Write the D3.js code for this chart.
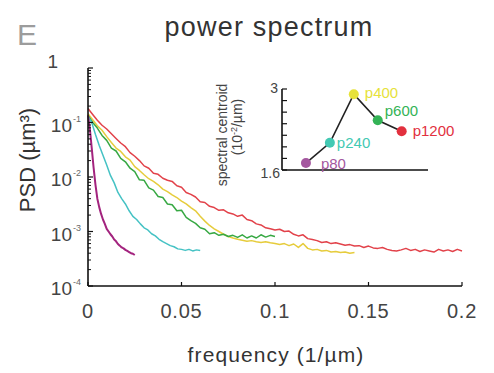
<!DOCTYPE html>
<html><head><meta charset="utf-8">
<script src="https://cdn.jsdelivr.net/npm/d3@7"></script>
<style>body{margin:0;background:#fff} text{font-family:"Liberation Sans",Arial,sans-serif}</style>
</head><body><svg id="c" width="494" height="373"></svg>
<script>
// ---- data ----
const xTicks = [0, 0.05, 0.1, 0.15, 0.2];
const xTickLabels = ["0", "0.05", "0.1", "0.15", "0.2"];
const yTicks = [1, 1e-1, 1e-2, 1e-3, 1e-4];
const yTickExp = [0, -1, -2, -3, -4];
const seriesNames = ["p80", "p240", "p400", "p600", "p1200"];
const centroid = [1.72, 2.07, 2.91, 2.46, 2.27];
const insetYTicks = [1.6, 1.8, 2.0, 2.2, 2.4, 2.6, 2.8, 3.0];
const insetYLabels = ["1.6", "3"];

const psdP80 = [[0,1.35e-1],[0.001,7.6e-2],[0.002,3.4e-2],[0.003,1.48e-2],[0.004,7.2e-3],[0.005,4.0e-3],[0.006,2.8e-3],[0.007,2.1e-3],[0.008,1.66e-3],[0.009,1.38e-3],[0.010,1.12e-3],[0.011,1.0e-3],[0.012,8.9e-4],[0.013,8.1e-4],[0.014,7.1e-4],[0.015,6.6e-4],[0.016,5.9e-4],[0.017,5.5e-4],[0.018,5.1e-4],[0.019,4.9e-4],[0.020,4.6e-4],[0.021,4.4e-4],[0.022,4.2e-4],[0.023,4.0e-4],[0.024,3.9e-4],[0.025,3.7e-4]];

const psdP240 = [[0,1.3e-1],[0.002,1.0e-1],[0.004,6.0e-2],[0.006,3.8e-2],[0.008,2.5e-2],[0.010,1.66e-2],[0.012,1.07e-2],[0.014,7.8e-3],[0.016,5.2e-3],[0.018,4.0e-3],[0.020,3.2e-3],[0.022,2.4e-3],[0.024,1.9e-3],[0.026,1.66e-3],[0.028,1.38e-3],[0.030,1.17e-3],[0.032,1.07e-3],[0.034,9.1e-4],[0.036,8.3e-4],[0.038,7.2e-4],[0.040,6.5e-4],[0.042,6.0e-4],[0.044,5.5e-4],[0.046,5.25e-4],[0.048,4.8e-4],[0.050,4.7e-4],[0.052,4.5e-4],[0.054,4.7e-4],[0.056,4.4e-4],[0.058,4.6e-4],[0.060,4.5e-4]];

const psdP400 = [[0,1.45e-1],[0.0025,1.12e-1],[0.005,8.7e-2],[0.0075,7.2e-2],[0.01,5.5e-2],[0.0125,4.3e-2],[0.015,3.4e-2],[0.0175,2.95e-2],[0.02,2.35e-2],[0.0225,2.04e-2],[0.025,1.55e-2],[0.0275,1.32e-2],[0.03,1.1e-2],[0.0325,9.3e-3],[0.035,8.3e-3],[0.0375,7.2e-3],[0.04,6.0e-3],[0.0425,5.4e-3],[0.045,4.7e-3],[0.0475,4.2e-3],[0.05,3.6e-3],[0.0525,3.2e-3],[0.055,2.75e-3],[0.0575,2.4e-3],[0.06,1.9e-3],[0.0625,1.55e-3],[0.065,1.29e-3],[0.0675,1.12e-3],[0.07,1.0e-3],[0.0725,8.9e-4],[0.075,8.1e-4],[0.0775,7.6e-4],[0.08,7.2e-4],[0.0825,6.9e-4],[0.085,6.6e-4],[0.0875,6.8e-4],[0.09,6.5e-4],[0.0925,6.3e-4],[0.095,6.5e-4],[0.0975,6.2e-4],[0.1,6.0e-4],[0.1025,5.75e-4],[0.105,6.0e-4],[0.1075,5.5e-4],[0.11,5.9e-4],[0.1125,5.1e-4],[0.115,6.0e-4],[0.1175,4.9e-4],[0.12,4.6e-4],[0.1225,4.7e-4],[0.125,4.4e-4],[0.1275,4.5e-4],[0.13,4.2e-4],[0.1325,4.3e-4],[0.135,4.1e-4],[0.1375,4.2e-4],[0.14,4.0e-4],[0.1425,4.1e-4]];

const psdP600 = [[0,1.35e-1],[0.0025,1.0e-1],[0.005,7.9e-2],[0.0075,5.8e-2],[0.01,4.7e-2],[0.0125,3.4e-2],[0.015,3.0e-2],[0.0175,2.2e-2],[0.02,1.9e-2],[0.0225,1.45e-2],[0.025,1.26e-2],[0.0275,8.9e-3],[0.03,8.7e-3],[0.0325,6.3e-3],[0.035,5.75e-3],[0.0375,4.4e-3],[0.04,4.2e-3],[0.0425,3.2e-3],[0.045,3.1e-3],[0.0475,2.4e-3],[0.05,2.45e-3],[0.0525,1.82e-3],[0.055,1.58e-3],[0.0575,1.41e-3],[0.06,1.17e-3],[0.0625,1.1e-3],[0.065,9.1e-4],[0.0675,9.5e-4],[0.07,8.5e-4],[0.0725,8.9e-4],[0.075,8.1e-4],[0.0775,8.5e-4],[0.08,7.8e-4],[0.0825,8.7e-4],[0.085,7.6e-4],[0.0875,8.3e-4],[0.09,7.6e-4],[0.0925,8.7e-4],[0.095,7.9e-4],[0.0975,8.5e-4],[0.1,8.1e-4]];

const psdP1200 = [[0,1.8e-1],[0.0025,1.4e-1],[0.005,1.1e-1],[0.0075,8.9e-2],[0.01,7.6e-2],[0.0125,6.2e-2],[0.015,5.1e-2],[0.0175,4.2e-2],[0.02,3.6e-2],[0.0225,2.8e-2],[0.025,2.4e-2],[0.0275,2.0e-2],[0.03,1.6e-2],[0.0325,1.45e-2],[0.035,1.17e-2],[0.0375,1.12e-2],[0.04,9.5e-3],[0.0425,8.7e-3],[0.045,8.3e-3],[0.0475,6.9e-3],[0.05,6.5e-3],[0.0525,5.2e-3],[0.055,4.8e-3],[0.0575,4.3e-3],[0.06,3.5e-3],[0.0625,3.4e-3],[0.065,2.9e-3],[0.0675,2.75e-3],[0.07,2.45e-3],[0.0725,2.5e-3],[0.075,2.2e-3],[0.0775,2.1e-3],[0.08,1.9e-3],[0.0825,2.0e-3],[0.085,1.66e-3],[0.0875,1.58e-3],[0.09,1.38e-3],[0.0925,1.32e-3],[0.095,1.17e-3],[0.0975,1.12e-3],[0.1,1.07e-3],[0.1025,1.1e-3],[0.105,1.0e-3],[0.1075,1.02e-3],[0.11,8.9e-4],[0.1125,8.3e-4],[0.115,8.7e-4],[0.1175,7.4e-4],[0.12,7.1e-4],[0.1225,6.8e-4],[0.125,6.3e-4],[0.1275,6.5e-4],[0.13,6.0e-4],[0.1325,6.2e-4],[0.135,5.9e-4],[0.1375,5.6e-4],[0.14,5.75e-4],[0.1425,5.4e-4],[0.145,5.5e-4],[0.1475,5.1e-4],[0.15,5.4e-4],[0.1525,5.0e-4],[0.155,4.9e-4],[0.1575,5.1e-4],[0.16,4.7e-4],[0.1625,4.5e-4],[0.165,4.4e-4],[0.1675,4.6e-4],[0.17,4.9e-4],[0.1725,4.5e-4],[0.175,4.7e-4],[0.1775,4.3e-4],[0.18,4.6e-4],[0.1825,4.4e-4],[0.185,4.2e-4],[0.1875,4.7e-4],[0.19,4.4e-4],[0.1925,4.6e-4],[0.195,4.3e-4],[0.1975,4.7e-4],[0.2,4.4e-4]];

const lineColors = ["#a3237e", "#45c2c4", "#e6cc3c", "#37a843", "#e2424a"];
const markerColors = ["#a4579f", "#43c9b3", "#e6e23a", "#34b356", "#e2303e"];

// ---- chart ----
const svg = d3.select("#c");
const x = d3.scaleLinear().domain([0, 0.2]).range([88, 462]);
const y = d3.scaleLog().domain([1e-4, 1]).range([286, 68]);

svg.append("text").attr("x", 17).attr("y", 45).attr("font-size", 30)
  .attr("fill", "#9c9c9c").text("E");
svg.append("text").attr("x", 269).attr("y", 36).attr("font-size", 27)
  .attr("text-anchor", "middle").attr("fill", "#333").attr("letter-spacing", 1.2)
  .text("power spectrum");

// curves
const line = d3.line().x(d => x(d[0])).y(d => y(d[1]));
const series = [psdP1200, psdP400, psdP600, psdP240, psdP80];
const seriesColor = [lineColors[4], lineColors[2], lineColors[3], lineColors[1], lineColors[0]];
series.forEach((s, i) => {
  svg.append("path").attr("d", line(s)).attr("fill", "none")
    .attr("stroke", seriesColor[i]).attr("stroke-width", i === 4 ? 2 : 1.5)
    .attr("stroke-linejoin", "round");
});

// axes
const ax = svg.append("g").attr("stroke", "#111").attr("stroke-width", 1.6);
ax.append("line").attr("x1", x(0)).attr("x2", x(0)).attr("y1", y(1)).attr("y2", y(1e-4));
ax.append("line").attr("x1", x(0)).attr("x2", x(0.2)).attr("y1", y(1e-4)).attr("y2", y(1e-4));
yTicks.forEach(t => {
  ax.append("line").attr("x1", x(0)).attr("x2", x(0) + 5).attr("y1", y(t)).attr("y2", y(t)).attr("stroke-width", 1.2);
});
for (let d = -4; d < 0; d++) {
  for (let k = 2; k <= 9; k++) {
    const v = k * Math.pow(10, d);
    ax.append("line").attr("x1", x(0)).attr("x2", x(0) + 3).attr("y1", y(v)).attr("y2", y(v)).attr("stroke-width", 1);
  }
}
xTicks.forEach(t => {
  ax.append("line").attr("x1", x(t)).attr("x2", x(t)).attr("y1", y(1e-4)).attr("y2", y(1e-4) - 4).attr("stroke-width", 1.2);
});

// y tick labels
yTicks.forEach((t, i) => {
  if (yTickExp[i] === 0) {
    svg.append("text").attr("x", 58).attr("y", y(t)).attr("font-size", 19)
      .attr("text-anchor", "end").attr("fill", "#444").text("1");
  } else {
    svg.append("text").attr("x", 72).attr("y", y(t) + 9).attr("font-size", 19)
      .attr("text-anchor", "end").attr("fill", "#444").text("10");
    svg.append("text").attr("x", 73).attr("y", y(t) - 1).attr("font-size", 9)
      .attr("fill", "#666").text(String(yTickExp[i]));
  }
});
// x tick labels
xTicks.forEach((t, i) => {
  svg.append("text").attr("x", x(t)).attr("y", 318).attr("font-size", 20)
    .attr("text-anchor", "middle").attr("fill", "#444").attr("letter-spacing", 0.8).text(xTickLabels[i]);
});
svg.append("text").attr("x", 276).attr("y", 362).attr("font-size", 21)
  .attr("text-anchor", "middle").attr("fill", "#333").attr("letter-spacing", 1.1)
  .text("frequency (1/µm)");
svg.append("text").attr("transform", "translate(35,160) rotate(-90)").attr("font-size", 22)
  .attr("text-anchor", "middle").attr("fill", "#333").text("PSD (µm³)");

// ---- inset ----
const xi = d3.scaleLinear().domain([-1, 5.1]).range([282, 428]);
const yi = d3.scaleLinear().domain([1.6, 3]).range([170, 89]);
const ig = svg.append("g");
ig.append("line").attr("x1", xi(-1)).attr("x2", xi(-1)).attr("y1", yi(3)).attr("y2", yi(1.6)).attr("stroke", "#111").attr("stroke-width", 1.6);
ig.append("line").attr("x1", xi(-1)).attr("x2", xi(5.1)).attr("y1", yi(1.6)).attr("y2", yi(1.6)).attr("stroke", "#111").attr("stroke-width", 1.6);
insetYTicks.forEach(t => {
  ig.append("line").attr("x1", xi(-1)).attr("x2", xi(-1) + 5).attr("y1", yi(t)).attr("y2", yi(t)).attr("stroke", "#111").attr("stroke-width", 1.2);
});
ig.append("text").attr("x", 278).attr("y", yi(3) + 4).attr("font-size", 14).attr("text-anchor", "end").attr("fill", "#444").text(insetYLabels[1]);
ig.append("text").attr("x", 280).attr("y", yi(1.6) + 8).attr("font-size", 14).attr("text-anchor", "end").attr("fill", "#444").text(insetYLabels[0]);

const cl = d3.line().x((d, i) => xi(i)).y(d => yi(d));
ig.append("path").attr("d", cl(centroid)).attr("fill", "none").attr("stroke", "#222").attr("stroke-width", 1.6);
const labelOff = [[15, 6], [7, 5], [11, 4], [7, -4], [11, 5]];
centroid.forEach((v, i) => {
  ig.append("circle").attr("cx", xi(i)).attr("cy", yi(v)).attr("r", 5).attr("fill", markerColors[i]);
  ig.append("text").attr("x", xi(i) + labelOff[i][0]).attr("y", yi(v) + labelOff[i][1])
    .attr("font-size", 15).attr("fill", markerColors[i]).text(seriesNames[i]);
});
ig.append("text").attr("transform", "translate(227,135) rotate(-90)").attr("font-size", 14)
  .attr("text-anchor", "middle").attr("fill", "#444").text("spectral centroid");
const t2 = ig.append("text").attr("transform", "translate(242,127) rotate(-90)").attr("font-size", 14)
  .attr("text-anchor", "middle").attr("fill", "#444");
t2.append("tspan").text("(10");
t2.append("tspan").attr("font-size", 9).attr("dy", -5).text("-2");
t2.append("tspan").attr("dy", 5).text("/µm)");
</script></body></html>
